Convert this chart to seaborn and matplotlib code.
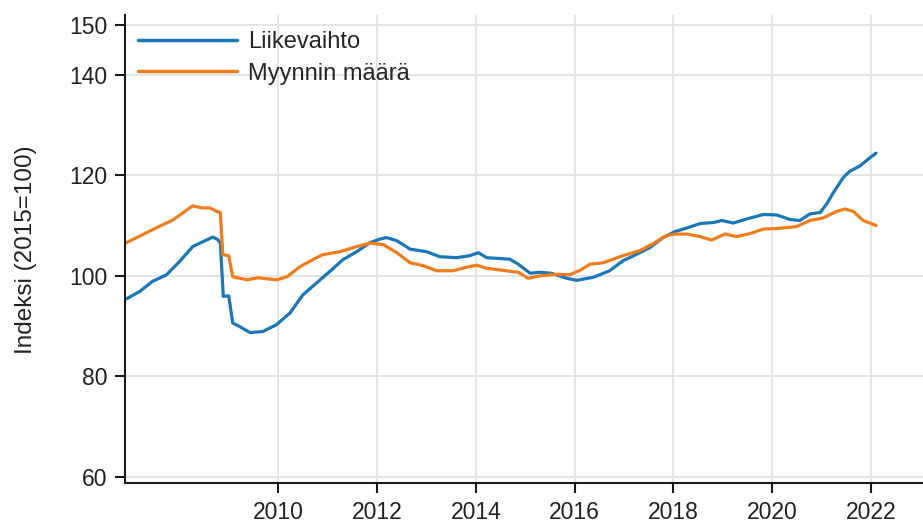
import pandas as pd
import numpy as np
import matplotlib
matplotlib.use("Agg")
import matplotlib.pyplot as plt
import seaborn as sns

# Data (index, 2015=100)
years_liikevaihto = [2006.93, 2007.20, 2007.46, 2007.74, 2008.01, 2008.27, 2008.48, 2008.68, 2008.78, 2008.83,
                     2008.89, 2009.00, 2009.08, 2009.22, 2009.43, 2009.69, 2009.97, 2010.24, 2010.50, 2010.78,
                     2011.05, 2011.31, 2011.59, 2011.86, 2012.06, 2012.19, 2012.40, 2012.67, 2013.00, 2013.27,
                     2013.61, 2013.88, 2014.05, 2014.22, 2014.69, 2014.86, 2015.10, 2015.30, 2015.53, 2015.84,
                     2016.04, 2016.38, 2016.71, 2016.98, 2017.26, 2017.52, 2017.79, 2018.03, 2018.27, 2018.54,
                     2018.81, 2018.98, 2019.21, 2019.48, 2019.82, 2020.09, 2020.36, 2020.56, 2020.76, 2020.97,
                     2021.10, 2021.24, 2021.44, 2021.57, 2021.78, 2021.94, 2022.10]
liikevaihto = [95.4, 96.9, 98.9, 100.2, 102.9, 105.8, 106.8, 107.7, 107.2, 106.5,
               95.9, 96.0, 90.6, 89.9, 88.7, 88.9, 90.3, 92.6, 96.2, 98.6,
               100.9, 103.2, 104.8, 106.6, 107.3, 107.6, 107.0, 105.3, 104.8, 103.8,
               103.6, 104.0, 104.6, 103.6, 103.3, 102.3, 100.5, 100.7, 100.5, 99.5,
               99.1, 99.7, 101.0, 103.0, 104.3, 105.6, 107.6, 108.8, 109.5, 110.4,
               110.6, 111.0, 110.5, 111.3, 112.2, 112.1, 111.2, 111.0, 112.3, 112.6,
               114.3, 116.6, 119.6, 120.8, 121.9, 123.2, 124.4]

years_myynti = [2006.93, 2007.26, 2007.61, 2007.87, 2008.07, 2008.27, 2008.46, 2008.62, 2008.76, 2008.83,
                2008.88, 2009.00, 2009.08, 2009.37, 2009.59, 2009.97, 2010.18, 2010.44, 2010.70, 2010.90,
                2011.25, 2011.59, 2011.86, 2012.13, 2012.40, 2012.67, 2012.94, 2013.21, 2013.54, 2013.81,
                2014.02, 2014.22, 2014.69, 2014.86, 2015.06, 2015.30, 2015.64, 2015.90, 2016.11, 2016.31,
                2016.58, 2016.98, 2017.32, 2017.59, 2017.86, 2018.03, 2018.27, 2018.54, 2018.77, 2019.04,
                2019.28, 2019.55, 2019.82, 2020.09, 2020.49, 2020.76, 2021.03, 2021.30, 2021.47, 2021.64,
                2021.84, 2022.10]
myynnin_maara = [106.6, 108.2, 109.9, 111.1, 112.5, 113.9, 113.5, 113.5, 112.8, 112.6,
                 104.2, 104.0, 99.8, 99.2, 99.6, 99.2, 99.8, 101.8, 103.2, 104.2,
                 104.8, 105.8, 106.5, 106.2, 104.6, 102.6, 102.0, 101.0, 101.0, 101.7,
                 102.1, 101.5, 100.9, 100.7, 99.5, 100.0, 100.3, 100.2, 101.1, 102.3,
                 102.6, 104.0, 105.0, 106.4, 108.0, 108.3, 108.3, 107.8, 107.1, 108.3,
                 107.8, 108.4, 109.3, 109.4, 109.8, 111.0, 111.5, 112.8, 113.3, 112.8,
                 111.0, 110.0]

series_names = ["Liikevaihto", "Myynnin määrä"]
y_ticks = [60, 80, 100, 120, 140, 150]
x_ticks = [2010, 2012, 2014, 2016, 2018, 2020, 2022]

df = pd.concat([
    pd.DataFrame({"vuosi": years_liikevaihto, "indeksi": liikevaihto, "sarja": series_names[0]}),
    pd.DataFrame({"vuosi": years_myynti, "indeksi": myynnin_maara, "sarja": series_names[1]}),
])

sns.set_theme(style="whitegrid")
plt.rcParams["font.family"] = ["Liberation Sans", "DejaVu Sans"]

fig = plt.figure(figsize=(9.23, 5.25), dpi=100)
ax = fig.add_axes([0.1354, 0.0794, 0.8646, 0.8916])

sns.lineplot(data=df, x="vuosi", y="indeksi", hue="sarja", hue_order=series_names,
             palette=["#1a78b8", "#ef7d1c"], linewidth=2.3, ax=ax, sort=False)

ax.set_xlim(2006.90, 2023.05)
ax.set_ylim(58.7, 151.85)
ax.set_xticks(x_ticks)
ax.set_yticks(y_ticks)
ax.set_xlabel("")
ax.set_ylabel("Indeksi (2015=100)", fontsize=17.5, color="#222222", labelpad=23)

ax.grid(True, color="#e3e3e3", linewidth=1.3)
for side in ["top", "right"]:
    ax.spines[side].set_visible(False)
for side in ["left", "bottom"]:
    ax.spines[side].set_visible(True)
    ax.spines[side].set_color("#1a1a1a")
    ax.spines[side].set_linewidth(1.5)

ax.tick_params(axis="both", which="both", length=7.5, width=1.5, color="#1a1a1a",
               labelsize=16.5, labelcolor="#222222", direction="out", left=True, bottom=True)
ax.tick_params(axis="x", pad=5)
ax.tick_params(axis="y", pad=5)

leg = ax.legend(loc="upper left", bbox_to_anchor=(0, 0.9936), frameon=False, fontsize=17,
                handlelength=4.2, handletextpad=0.45, borderaxespad=0.15, borderpad=0.4,
                labelspacing=0.4)
for line in leg.get_lines():
    line.set_linewidth(2.5)

fig.savefig("out.png", dpi=100)
